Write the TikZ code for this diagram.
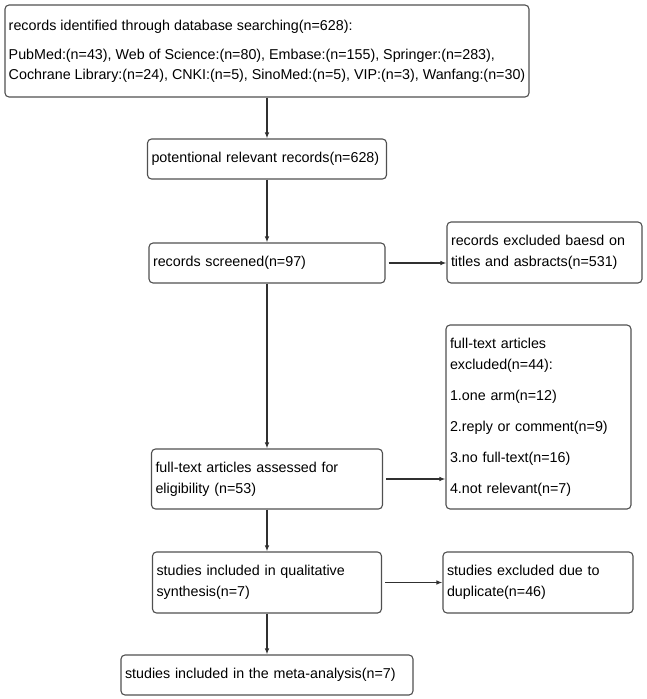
\documentclass[tikz,border=0pt]{standalone}
\usepackage{fontspec}
\setmainfont{Liberation Sans}
\usetikzlibrary{arrows.meta}
\definecolor{boxgray}{HTML}{505050}
\definecolor{linegray}{HTML}{303030}
\hyphenpenalty=10000
\begin{document}
\begin{tikzpicture}[
        x=1pt, y=-1pt,
        every node/.style={
            draw=boxgray,
            line width=1.1pt,
            rounded corners=4pt,
            inner xsep=4pt,
            inner ysep=0pt,
            align=left,
            font=\fontsize{14.3}{21}\selectfont},
        flow/.style={
            draw=linegray,
            line width=1.1pt,
            -{Latex[length=6pt,width=4.5pt]}}]
        \useasboundingbox (0,0) rectangle (646,699);

        \node[minimum width=524pt, inner xsep=2pt, minimum height=92pt,
            font=\fontsize{14.3}{19.5}\selectfont] (A) at (267,51)
            {records identified through database searching(n=628):\\[10pt]
            PubMed:(n=43), Web of Science:(n=80), Embase:(n=155), Springer:(n=283),\\
            Cochrane Library:(n=24), CNKI:(n=5), SinoMed:(n=5), VIP:(n=3), Wanfang:(n=30)};
        \node[text width=231pt, minimum height=40pt] (B) at (267,159)
            {potentional relevant records(n=628)};
        \node[text width=228pt, minimum height=40pt] (C) at (267,263)
            {records screened(n=97)};
        \node[text width=187pt, minimum height=61pt] (D) at (544.5,252.5)
            {records excluded baesd on\\ titles and asbracts(n=531)};
        \node[text width=223pt, minimum height=60pt] (E) at (267,479)
            {full-text articles assessed for\\ eligibility (n=53)};
        \node[text width=177pt, minimum height=184pt] (F) at (538.5,417)
            {full-text articles\\ excluded(n=44):\\[10pt]
            1.one arm(n=12)\\[10pt]
            2.reply or comment(n=9)\\[10pt]
            3.no full-text(n=16)\\[10pt]
            4.not relevant(n=7)};
        \node[text width=221pt, minimum height=61pt] (G) at (267,582.5)
            {studies included in qualitative\\ synthesis(n=7)};
        \node[text width=182pt, minimum height=61pt] (H) at (538,582.5)
            {studies excluded due to\\ duplicate(n=46)};
        \node[text width=284pt, minimum height=40pt] (I) at (267,675)
            {studies included in the meta-analysis(n=7)};

        \draw[flow] (A) -- (B);
        \draw[flow] (B) -- (C);
        \draw[flow] (C) -- (E);
        \draw[flow] (E) -- (G);
        \draw[flow] (G) -- (I);
        \draw[flow, shorten <=3pt] (C.east) -- (C.east -| D.west);
        \draw[flow, shorten <=3pt] (E.east) -- (E.east -| F.west);
        \draw[flow, shorten <=3pt] (G.east) -- (G.east -| H.west);
    \end{tikzpicture}
\end{document}
